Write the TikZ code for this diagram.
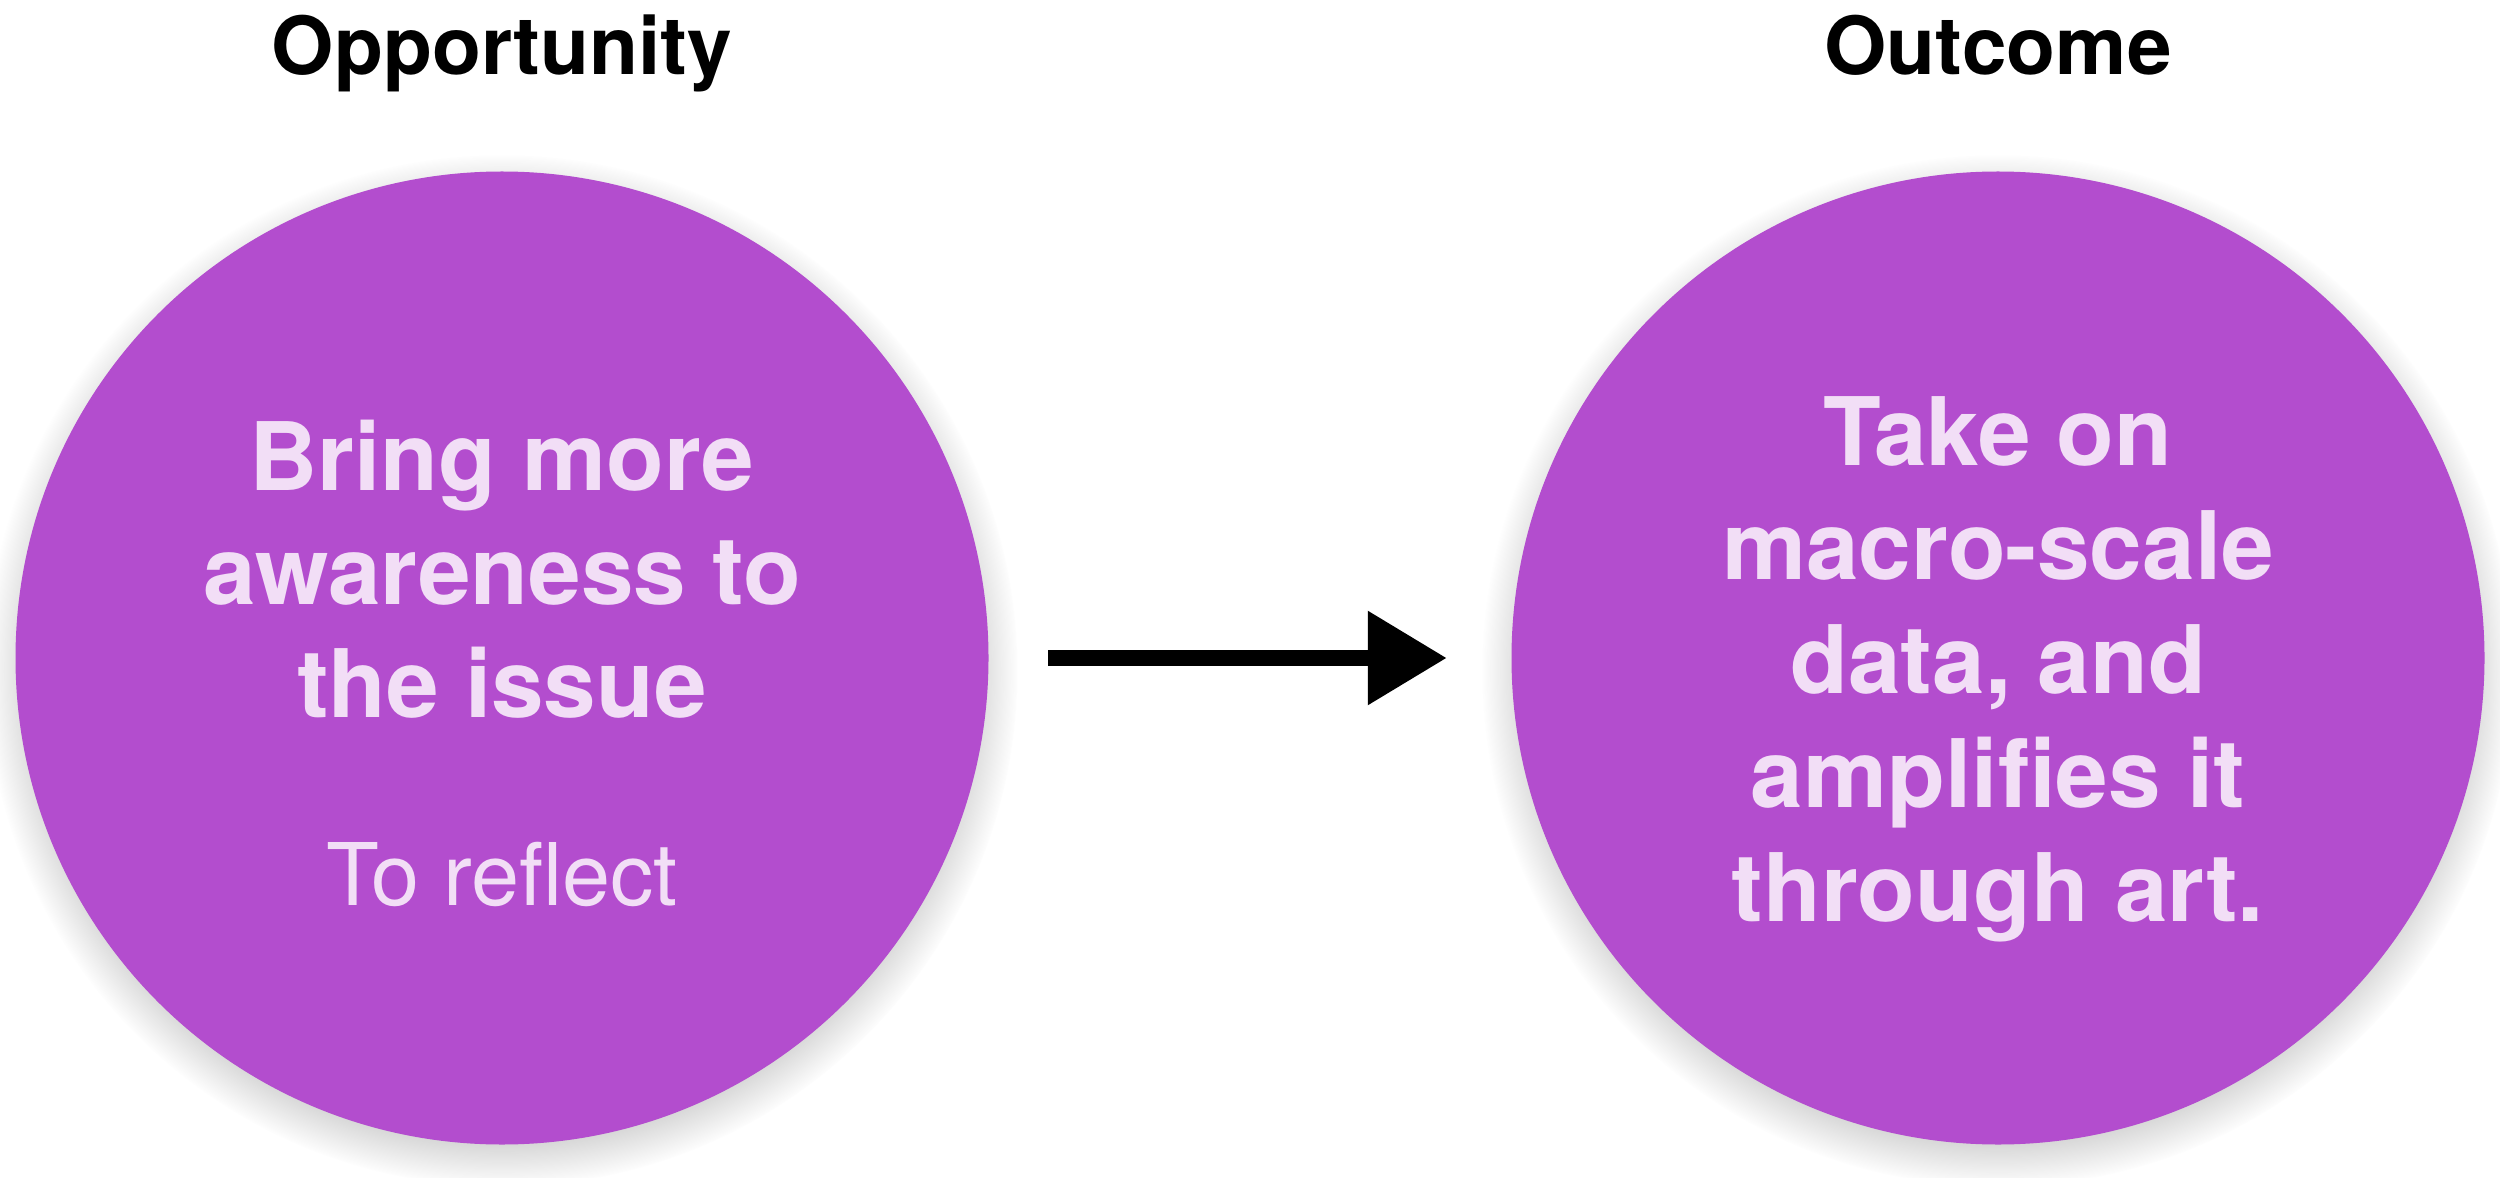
\documentclass[tikz,border=0pt]{standalone}
\usepackage{fontspec}
\setmainfont{TeX Gyre Heros}
\usetikzlibrary{arrows.meta,shadows}
\definecolor{bubblepurple}{HTML}{B34DCE}
\definecolor{bubbletxt}{HTML}{F2DEF6}

\tikzset{
  bubble/.style={circle,fill=bubblepurple,minimum size=9.73cm,inner sep=0pt,
    circular drop shadow={shadow scale=1.06,shadow xshift=0cm,
      shadow yshift=-0.12cm,opacity=0.55}},
  bubbletext/.style={bubbletxt,align=center,inner sep=0pt,
    font=\bfseries\fontsize{26.9}{32.4}\selectfont},
  subtext/.style={bubbletxt,inner sep=0pt,font=\fontsize{24.6}{29}\selectfont},
  heading/.style={black,inner sep=0pt,font=\bfseries\fontsize{22.8}{27}\selectfont},
  flow/.style={-{Triangle[length=0.79cm,width=0.9cm]},black,line width=0.16cm,
    shorten <=0.59cm,shorten >=0.64cm}
}

\begin{document}
\begin{tikzpicture}[x=1cm,y=1cm]
  \useasboundingbox (0,0) rectangle (25,11.77);

  % ===== OPPORTUNITY =====
  \node[bubble] (lc) at (5.02,5.19) {};
  \node[heading,anchor=base] (lhead) at ([yshift=5.83cm]lc.center) {Opportunity};
  \node[bubbletext,anchor=north] (ltext) at ([yshift=2.39cm]lc.center)
        {Bring more\\awareness to\\the issue};
  \node[subtext,anchor=base] (lsub) at ([yshift=-2.47cm]lc.center) {To reflect};

  % ===== OUTCOME =====
  \node[bubble] (rc) at (19.98,5.19) {};
  \node[heading,anchor=base] (rhead) at ([yshift=5.83cm]rc.center) {Outcome};
  \node[bubbletext,anchor=north] (rtext) at ([yshift=2.62cm]rc.center)
        {Take on\\macro-scale\\data, and\\amplifies it\\through art.};

  % ===== ARROW =====
  \draw[flow] (lc) -- (rc);

\end{tikzpicture}
\end{document}
